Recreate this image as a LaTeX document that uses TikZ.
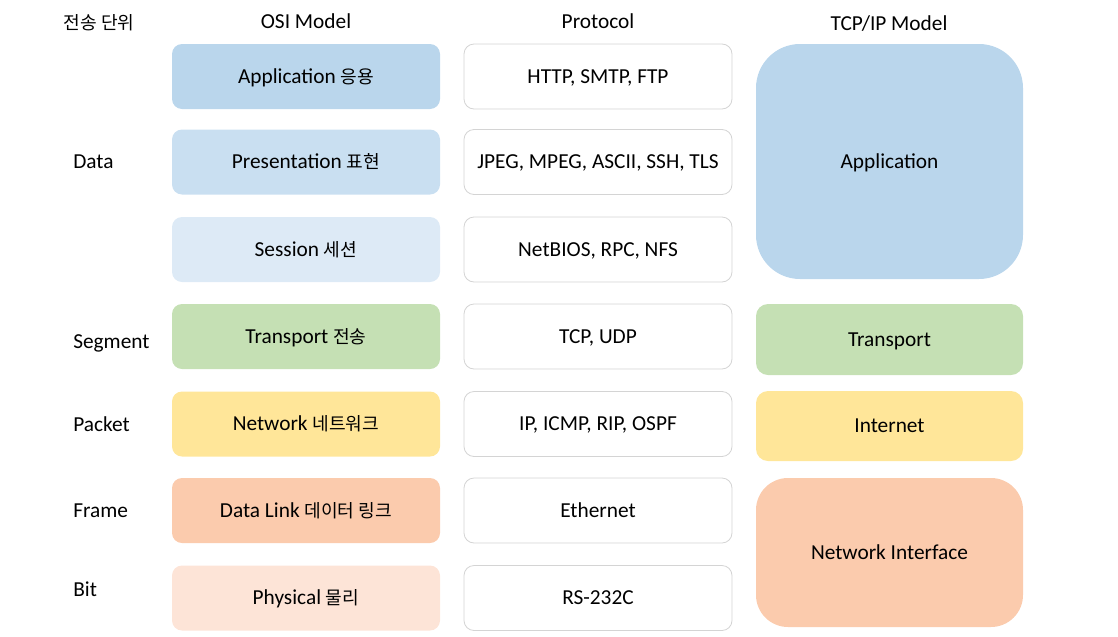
\documentclass[tikz,border=0pt]{standalone}
\usepackage{fontspec}
\setmainfont{Carlito}
\newfontfamily\kr[Scale=0.85]{Noto Sans CJK KR}
\definecolor{cApp}{HTML}{BAD6EC}
\definecolor{cPres}{HTML}{C9DFF1}
\definecolor{cSes}{HTML}{DDEAF6}
\definecolor{cTra}{HTML}{C5E0B4}
\definecolor{cNet}{HTML}{FFE699}
\definecolor{cDL}{HTML}{FBCBAD}
\definecolor{cPhy}{HTML}{FDE4D7}
\definecolor{cBorder}{HTML}{D4D4D4}
\tikzset{
  lay/.style={rectangle, draw=none, rounded corners=7.5pt, minimum width=201pt, minimum height=48.75pt, inner sep=0pt, text height=10pt, text depth=0pt, font=\fontsize{16}{19}\selectfont},
  proto/.style={lay, fill=white, draw=cBorder, line width=0.6pt},
  tcp/.style={lay, minimum width=200.25pt},
  lbl/.style={font=\fontsize{16}{19}\selectfont, inner sep=0pt, text height=10pt, text depth=0pt},
}
\begin{document}
\begin{tikzpicture}[x=0.75pt,y=-0.75pt]
\useasboundingbox (0,0) rectangle (1118,636);
% headers
\node[lbl] (hU) at (99,23) {\kr 전송 단위};
\node[lbl] (hO) at (306,22) {OSI Model};
\node[lbl] (hP) at (598,22) {Protocol};
\node[lbl] (hT) at (889,24) {TCP/IP Model};
% left labels
\node[lbl, anchor=west] (uData) at (73,162) {Data};
\node[lbl, anchor=west] (uSeg) at (73,342) {Segment};
\node[lbl, anchor=west] (uPkt) at (73,425) {Packet};
\node[lbl, anchor=west] (uFrm) at (73,511) {Frame};
\node[lbl, anchor=west] (uBit) at (73,590) {Bit};
% OSI
\node[lay, fill=cApp] (oApp) at (306,76.5) {Application {\kr 응용}};
\node[lay, fill=cPres] (oPres) at (306,162) {Presentation {\kr 표현}};
\node[lay, fill=cSes] (oSes) at (306,249.5) {Session {\kr 세션}};
\node[lay, fill=cTra] (oTra) at (306,336.5) {Transport {\kr 전송}};
\node[lay, fill=cNet] (oNet) at (306,424) {Network {\kr 네트워크}};
\node[lay, fill=cDL] (oDL) at (306,510.5) {Data Link {\kr 데이터 링크}};
\node[lay, fill=cPhy] (oPhy) at (306,598) {Physical {\kr 물리}};
% Protocols
\node[proto] (pApp) at (598,76.5) {HTTP, SMTP, FTP};
\node[proto] (pPres) at (598,162) {JPEG, MPEG, ASCII, SSH, TLS};
\node[proto] (pSes) at (598,249.5) {NetBIOS, RPC, NFS};
\node[proto] (pTra) at (598,336.5) {TCP, UDP};
\node[proto] (pNet) at (598,424) {IP, ICMP, RIP, OSPF};
\node[proto] (pDL) at (598,510.5) {Ethernet};
\node[proto] (pPhy) at (598,598) {RS-232C};
% TCP/IP
\node[tcp, fill=cApp, minimum height=176.25pt, rounded corners=33pt] (tApp) at (889.5,161.5) {Application};
\node[tcp, fill=cTra, minimum height=53.25pt, rounded corners=9pt] (tTra) at (889.5,339.5) {Transport};
\node[tcp, fill=cNet, minimum height=52.5pt, rounded corners=9pt] (tInt) at (889.5,426) {Internet};
\node[tcp, fill=cDL, minimum height=111.75pt, rounded corners=24pt] (tNI) at (889.5,552.5) {Network Interface};
\end{tikzpicture}
\end{document}
